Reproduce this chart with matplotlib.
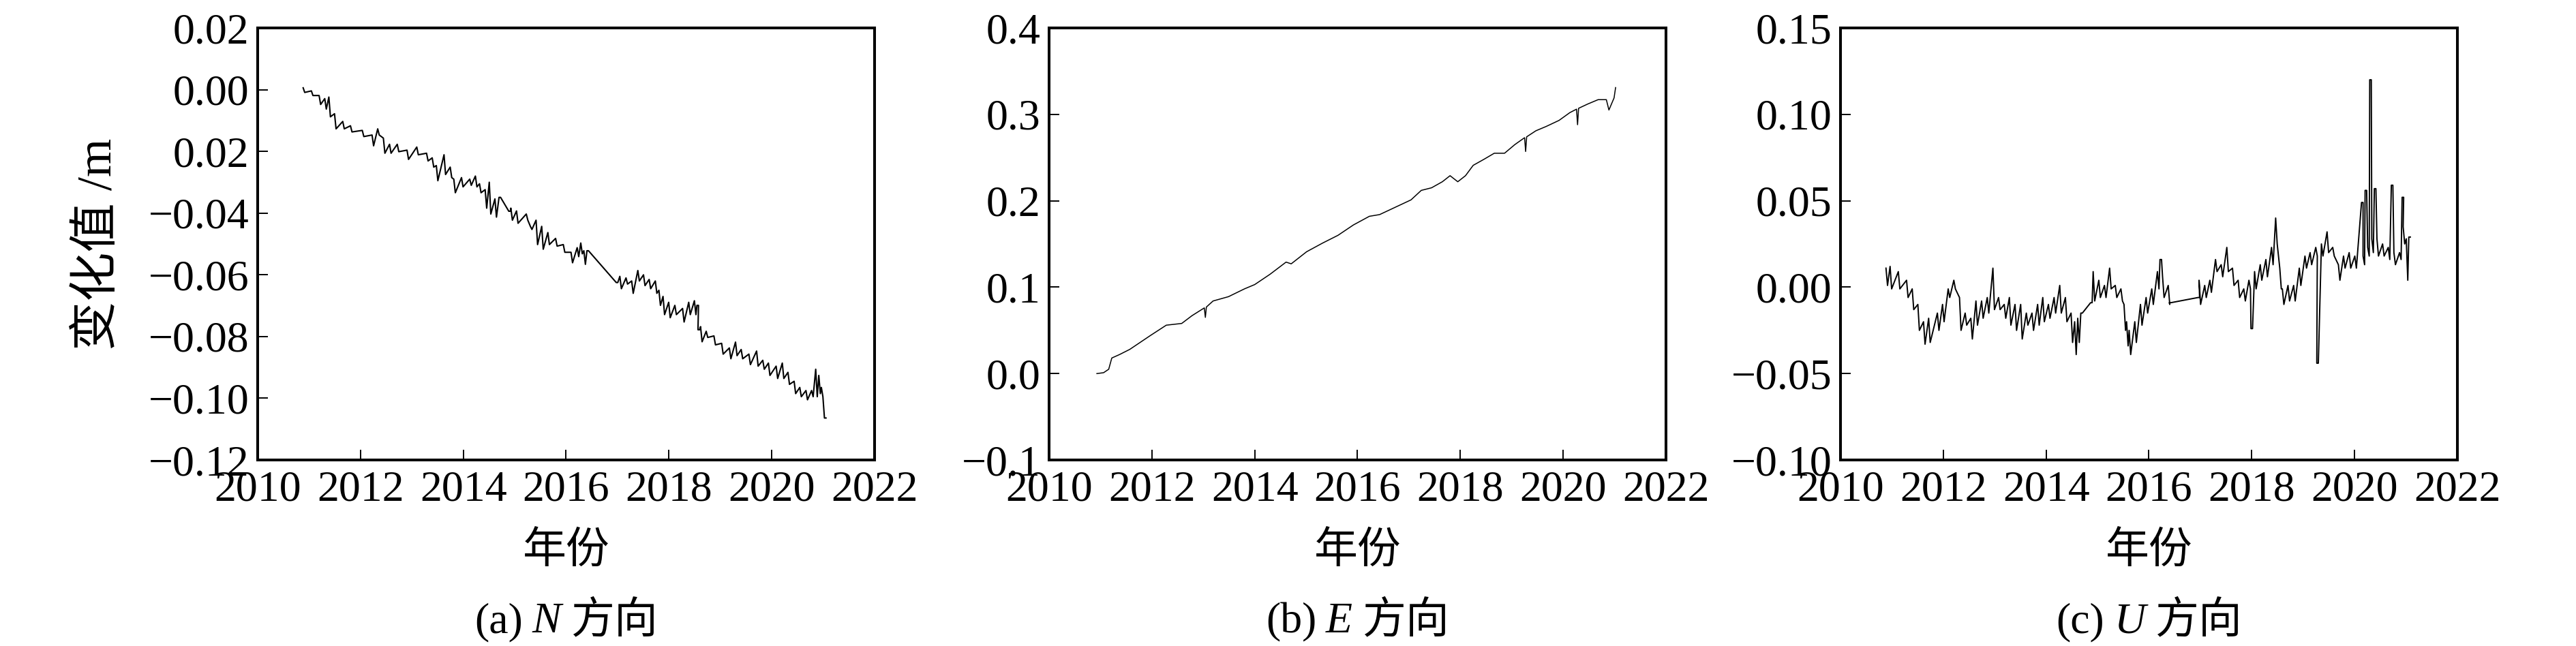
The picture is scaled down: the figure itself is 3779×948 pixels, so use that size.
import matplotlib
matplotlib.use("Agg")
import matplotlib.pyplot as plt
from matplotlib.offsetbox import TextArea, HPacker, AnnotationBbox

SERIF = "Liberation Serif"
CJK = "Noto Sans CJK SC"
plt.rcParams["font.family"] = [SERIF, CJK]
plt.rcParams["font.size"] = 46

# N direction: time (yr) with upper / lower envelope of the noisy trace (m)
N_T = [2010.90, 2011.06, 2011.21, 2011.32, 2011.40, 2011.51,
       2011.67, 2011.82, 2012.05, 2012.24, 2012.35, 2012.46,
       2012.58, 2012.73, 2012.92, 2013.11, 2013.30, 2013.41,
       2013.49, 2013.64, 2013.76, 2013.83, 2013.98, 2014.14,
       2014.25, 2014.33, 2014.44, 2014.52, 2014.63, 2014.71,
       2014.90, 2014.94, 2015.05, 2015.24, 2015.32, 2015.43,
       2015.54, 2015.66, 2015.81, 2015.96, 2016.11, 2016.23,
       2016.30, 2016.36, 2016.42, 2016.99, 2017.06, 2017.18,
       2017.29, 2017.41, 2017.52, 2017.63, 2017.75, 2017.82,
       2017.90, 2018.01, 2018.13, 2018.28, 2018.40, 2018.51,
       2018.56, 2018.58, 2018.63, 2018.74, 2018.89, 2019.04,
       2019.19, 2019.31, 2019.42, 2019.57, 2019.72, 2019.84,
       2019.95, 2020.10, 2020.22, 2020.33, 2020.45, 2020.56,
       2020.68, 2020.79, 2020.87, 2020.93, 2020.98, 2021.04]
N_HI = [0.0006, -0.0004, -0.0019, -0.0029, -0.0024, -0.0078,
        -0.0103, -0.0117, -0.0132, -0.0147, -0.0127, -0.0157,
        -0.0177, -0.0177, -0.0196, -0.0186, -0.0206, -0.0221,
        -0.0246, -0.0211, -0.0251, -0.0290, -0.0285, -0.0290,
        -0.0280, -0.0305, -0.0324, -0.0300, -0.0354, -0.0349,
        -0.0394, -0.0384, -0.0393, -0.0403, -0.0443, -0.0423,
        -0.0443, -0.0463, -0.0482, -0.0502, -0.0527, -0.0512,
        -0.0497, -0.0522, -0.0522, -0.0625, -0.0605, -0.0610,
        -0.0620, -0.0586, -0.0600, -0.0615, -0.0620, -0.0650,
        -0.0670, -0.0689, -0.0699, -0.0709, -0.0689, -0.0684,
        -0.0699, -0.0778, -0.0768, -0.0783, -0.0798, -0.0822,
        -0.0837, -0.0818, -0.0842, -0.0857, -0.0847, -0.0877,
        -0.0886, -0.0896, -0.0886, -0.0916, -0.0945, -0.0965,
        -0.0975, -0.0975, -0.0906, -0.0926, -0.0965, -0.1064]
N_LO = [-0.0009, -0.0019, -0.0048, -0.0063, -0.0088, -0.0127,
        -0.0127, -0.0137, -0.0152, -0.0182, -0.0147, -0.0206,
        -0.0206, -0.0201, -0.0226, -0.0211, -0.0231, -0.0251,
        -0.0295, -0.0275, -0.0285, -0.0334, -0.0315, -0.0310,
        -0.0315, -0.0334, -0.0384, -0.0403, -0.0413, -0.0349,
        -0.0394, -0.0423, -0.0433, -0.0423, -0.0453, -0.0502,
        -0.0517, -0.0502, -0.0507, -0.0527, -0.0561, -0.0541,
        -0.0532, -0.0566, -0.0522, -0.0625, -0.0645, -0.0630,
        -0.0660, -0.0620, -0.0635, -0.0645, -0.0660, -0.0699,
        -0.0729, -0.0739, -0.0729, -0.0753, -0.0729, -0.0729,
        -0.0699, -0.0778, -0.0817, -0.0803, -0.0827, -0.0857,
        -0.0872, -0.0862, -0.0872, -0.0891, -0.0896, -0.0906,
        -0.0926, -0.0936, -0.0936, -0.0955, -0.0985, -0.0995,
        -0.1005, -0.0995, -0.0995, -0.0985, -0.0995, -0.1064]

# E direction: smooth trace
E_T = [2010.93, 2011.06, 2011.16, 2011.22, 2011.37, 2011.57, 2011.77, 2011.97,
       2012.28, 2012.58, 2012.78, 2013.02, 2013.04, 2013.06, 2013.19, 2013.49,
       2013.80, 2014.00, 2014.30, 2014.61, 2014.71, 2015.01, 2015.32, 2015.62,
       2015.92, 2016.23, 2016.43, 2017.04, 2017.24, 2017.44, 2017.65, 2017.80,
       2017.95, 2018.10, 2018.25, 2018.46, 2018.66, 2018.86, 2019.06, 2019.25,
       2019.27, 2019.29, 2019.47, 2019.67, 2019.92, 2020.13, 2020.26, 2020.28,
       2020.30, 2020.48, 2020.68, 2020.84, 2020.89, 2020.99, 2021.02]
E_V = [0.000, 0.001, 0.005, 0.018, 0.022, 0.028, 0.036, 0.044,
       0.056, 0.058, 0.067, 0.076, 0.065, 0.077, 0.084, 0.089,
       0.098, 0.103, 0.115, 0.129, 0.127, 0.141, 0.151, 0.160,
       0.172, 0.182, 0.184, 0.201, 0.212, 0.215, 0.222, 0.229,
       0.222, 0.229, 0.241, 0.248, 0.255, 0.255, 0.265, 0.273,
       0.257, 0.274, 0.281, 0.286, 0.293, 0.302, 0.306, 0.288,
       0.307, 0.312, 0.317, 0.317, 0.305, 0.319, 0.331]

# U direction: upper / lower envelope
U_T = [2010.90, 2010.98, 2011.14, 2011.30, 2011.41, 2011.52,
       2011.63, 2011.73, 2011.90, 2012.00, 2012.11, 2012.22,
       2012.33, 2012.44, 2012.55, 2012.65, 2012.76, 2012.87,
       2012.98, 2013.09, 2013.20, 2013.30, 2013.41, 2013.52,
       2013.63, 2013.74, 2013.85, 2013.95, 2014.06, 2014.17,
       2014.28, 2014.39, 2014.50, 2014.57, 2014.63, 2014.69,
       2014.88, 2014.93, 2015.04, 2015.15, 2015.25, 2015.36,
       2015.47, 2015.53, 2015.58, 2015.63, 2015.74, 2015.85,
       2015.96, 2016.07, 2016.18, 2016.23, 2016.28, 2016.39,
       2016.41, 2016.97, 2016.99, 2017.10, 2017.20, 2017.31,
       2017.42, 2017.53, 2017.64, 2017.75, 2017.86, 2017.96,
       2018.00, 2018.07, 2018.18, 2018.29, 2018.40, 2018.48,
       2018.56, 2018.61, 2018.72, 2018.83, 2018.94, 2019.05,
       2019.15, 2019.26, 2019.28, 2019.37, 2019.48, 2019.59,
       2019.70, 2019.80, 2019.91, 2020.02, 2020.15, 2020.18,
       2020.22, 2020.27, 2020.31, 2020.35, 2020.40, 2020.45,
       2020.56, 2020.67, 2020.73, 2020.78, 2020.89, 2020.94,
       2020.96, 2021.02, 2021.07]
U_HI = [0.011, 0.012, 0.009, 0.004, -0.001, -0.010,
        -0.020, -0.018, -0.015, -0.010, -0.001, 0.004,
        -0.006, -0.015, -0.018, -0.008, -0.008, -0.006,
        0.011, -0.006, -0.010, -0.006, -0.010, -0.010,
        -0.015, -0.015, -0.010, -0.006, -0.010, -0.006,
        0.001, -0.006, -0.015, -0.020, -0.018, -0.015,
        -0.009, 0.009, 0.004, 0.001, 0.011, 0.001,
        -0.001, -0.010, -0.020, -0.025, -0.020, -0.010,
        -0.006, -0.001, 0.009, 0.016, 0.006, 0.001,
        -0.009, -0.006, 0.004, 0.001, 0.004, 0.016,
        0.013, 0.023, 0.011, 0.004, -0.001, 0.004,
        -0.024, 0.009, 0.013, 0.016, 0.023, 0.040,
        0.011, -0.001, 0.001, 0.001, 0.011, 0.018,
        0.020, 0.023, -0.044, 0.025, 0.032, 0.023,
        0.013, 0.018, 0.020, 0.018, 0.049, 0.018,
        0.056, 0.023, 0.120, 0.028, 0.057, 0.028,
        0.025, 0.023, 0.059, 0.020, 0.020, 0.052,
        0.035, 0.028, 0.029]
U_LO = [0.001, -0.001, -0.001, -0.006, -0.013, -0.025,
        -0.033, -0.032, -0.025, -0.020, -0.006, -0.001,
        -0.025, -0.022, -0.030, -0.022, -0.018, -0.015,
        -0.013, -0.013, -0.018, -0.022, -0.025, -0.030,
        -0.022, -0.025, -0.022, -0.020, -0.018, -0.015,
        -0.015, -0.020, -0.032, -0.039, -0.032, -0.015,
        -0.009, -0.008, -0.006, -0.006, -0.001, -0.006,
        -0.008, -0.025, -0.034, -0.039, -0.032, -0.022,
        -0.015, -0.010, -0.001, 0.016, -0.006, -0.010,
        -0.009, -0.006, -0.010, -0.006, -0.003, 0.009,
        0.006, 0.009, 0.001, -0.006, -0.008, -0.001,
        -0.024, -0.001, 0.004, 0.006, 0.013, 0.025,
        -0.001, -0.010, -0.008, -0.008, 0.001, 0.011,
        0.013, 0.018, -0.044, 0.018, 0.020, 0.018,
        0.004, 0.011, 0.011, 0.011, 0.049, 0.013,
        0.056, 0.018, 0.120, 0.020, 0.057, 0.018,
        0.018, 0.016, 0.059, 0.013, 0.016, 0.052,
        0.025, 0.004, 0.029]

X_TICKS = [2010, 2012, 2014, 2016, 2018, 2020, 2022]
N_YTICKS = [0.02, 0.00, -0.02, -0.04, -0.06, -0.08, -0.10, -0.12]
N_YLABELS = ["0.02", "0.00", "0.02", "\u22120.04", "\u22120.06",
             "\u22120.08", "\u22120.10", "\u22120.12"]
E_YTICKS = [0.4, 0.3, 0.2, 0.1, 0.0, -0.1]
E_YLABELS = ["0.4", "0.3", "0.2", "0.1", "0.0", "\u22120.1"]
U_YTICKS = [0.15, 0.10, 0.05, 0.00, -0.05, -0.10]
U_YLABELS = ["0.15", "0.10", "0.05", "0.00", "\u22120.05", "\u22120.10"]
CAPTIONS = [("(a)", "N"), ("(b)", "E"), ("(c)", "U")]


def zigzag(t, hi, lo):
    # join the upper and lower reading at each date into one jagged trace
    xs, ys = [], []
    for ti, h, l in zip(t, hi, lo):
        xs += [ti - 0.015, ti + 0.015]
        ys += [h, l]
    return xs, ys


fig = plt.figure(figsize=(37.8, 9.48), dpi=100)

lefts = [378 / 3780, 1539 / 3780, 2700 / 3780]
width = 905 / 3780
bottom = 1 - 675 / 948
height = 634 / 948

series = [zigzag(N_T, N_HI, N_LO), (E_T, E_V), zigzag(U_T, U_HI, U_LO)]
widths = [1.5, 1.1, 1.4]
yticks = [(N_YTICKS, N_YLABELS), (E_YTICKS, E_YLABELS), (U_YTICKS, U_YLABELS)]

for i in range(3):
    ax = fig.add_axes([lefts[i], bottom, width, height])
    xs, ys = series[i]
    ax.plot(xs, ys, color="black", lw=widths[i])

    ticks, labels = yticks[i]
    ax.set_xlim(2010, 2022)
    ax.set_ylim(min(ticks), max(ticks))
    ax.set_xticks(X_TICKS)
    ax.set_yticks(ticks, labels)
    ax.tick_params(direction="in", length=11, width=1.4, top=False,
                   right=False, labelsize=46)
    ax.tick_params(axis="x", pad=11)
    ax.tick_params(axis="y", pad=9)
    for sp in ax.spines.values():
        sp.set_linewidth(2.9)

    ax.set_xlabel("年份", fontsize=46, va="center")
    ax.xaxis.set_label_coords(0.5, -0.215)
    if i == 0:
        ax.set_ylabel("变化值 /m", fontsize=52, va="center")
        ax.yaxis.set_label_coords(-0.258, 0.5)

    lab, letter = CAPTIONS[i]
    pack = HPacker(children=[
        TextArea(lab, textprops=dict(family=SERIF, fontsize=46)),
        TextArea(letter, textprops=dict(family=SERIF, style="italic", fontsize=46)),
        TextArea("方向", textprops=dict(family=CJK, fontsize=46)),
    ], sep=10, align="baseline")
    ab = AnnotationBbox(pack, (lefts[i] + width / 2, 0.040),
                        xycoords="figure fraction", frameon=False,
                        box_alignment=(0.5, 0.5), pad=0)
    fig.add_artist(ab)

fig.savefig("out.png", dpi=100)
